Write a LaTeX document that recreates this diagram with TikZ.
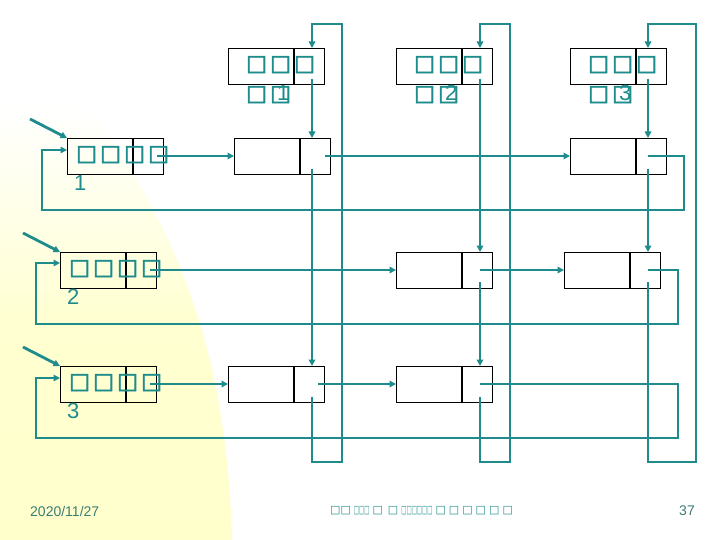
\documentclass[tikz,border=0pt]{standalone}
\usepackage{fontspec}
\setmainfont{Liberation Sans}
\newfontfamily\sqfont{DejaVu Sans}
\newfontfamily\sqfontB{DejaVu Sans}[FakeBold=2.5]
\usetikzlibrary{arrows.meta}
\definecolor{tealA}{RGB}{30,140,140}
\definecolor{footc}{RGB}{60,125,115}
\definecolor{bgy}{RGB}{255,255,204}
\newcommand{\tofu}{{\sqfontB □}}
\newcommand{\tofuL}{{\sqfont □}}
\newcommand{\tb}{\makebox[24pt][l]{\tofu}}
\newcommand{\tn}{\scalebox{0.5}[1]{\tofuL}}
\begin{document}
\begin{tikzpicture}[x=1pt,y=-1pt,
  thk/.style={draw=tealA, line width=2.8pt, -{Triangle[length=6.5pt,width=6.5pt]}},
  thn/.style={draw=tealA, line width=1.4pt},
  thnar/.style={thn, -{Triangle[length=6.5pt,width=6.5pt]}},
  cellbox/.style={draw=black, line width=1.4pt, minimum width=96pt, minimum height=36pt, inner sep=0pt, anchor=north west},
  lbl/.style={text=tealA, font=\fontsize{22}{30}\selectfont, align=left, inner sep=0pt, anchor=north west},
  foot/.style={font=\fontsize{14}{14}\selectfont, inner sep=0pt}]
\useasboundingbox (0,0) rectangle (720,540);
\shade[top color=white, bottom color=bgy, middle color=bgy!90]
  (0,540) -- (232,540) .. controls (228,400) and (200,250) .. (85,105) -- (0,105) -- cycle;
\newcommand{\cellnode}[3]{%
  \node[cellbox] (#1) at (#2,#3) {};
  \draw[line width=1.4pt] ([xshift=66pt]#1.north west) -- ([xshift=66pt]#1.south west);}
% column heads
\cellnode{H1}{228}{48}
\cellnode{H2}{396}{48}
\cellnode{H3}{570}{48}
% row heads
\cellnode{R1}{67}{138}
\cellnode{R2}{60}{252}
\cellnode{R3}{60}{366}
% elements
\cellnode{A11}{234}{138}
\cellnode{A13}{570}{138}
\cellnode{A22}{396}{252}
\cellnode{A23}{564}{252}
\cellnode{A31}{228}{366}
\cellnode{A32}{396}{366}
% labels
\node[lbl] (tH1) at (246,56) {\tb\tb\tofu\\\tb\rlap{\tofu}\kern7pt 1};
\node[lbl] (tH2) at (414,56) {\tb\tb\tofu\\\tb\rlap{\tofu}\kern7pt 2};
\node[lbl] (tH3) at (588,56) {\tb\tb\tofu\\\tb\rlap{\tofu}\kern7pt 3};
\node[lbl] (tR1) at (76,146) {\tb\tb\tb\tofu\\\kern-2pt 1};
\node[lbl] (tR2) at (69,260) {\tb\tb\tb\tofu\\\kern-2pt 2};
\node[lbl] (tR3) at (69,374) {\tb\tb\tb\tofu\\\kern-2pt 3};
% column 1
\coordinate (H1d) at (312,79);
\coordinate (A11d) at (312,169);
\coordinate (A31d) at (312,397);
\draw[thk] (H1d) -- (H1d |- A11.north);
\draw[thk] (A11d) -- (A11d |- A31.north);
\draw[thnar] (A31d) -- (312,462) -| (342,24) -| (H1d |- H1.north);
% column 2
\coordinate (H2d) at (480,79);
\coordinate (A22d) at (480,282);
\coordinate (A32d) at (480,397);
\draw[thk] (H2d) -- (H2d |- A22.north);
\draw[thk] (A22d) -- (A22d |- A32.north);
\draw[thnar] (A32d) -- (480,462) -| (510,24) -| (H2d |- H2.north);
% column 3
\coordinate (H3d) at (648,79);
\coordinate (A13d) at (648,169);
\coordinate (A23d) at (648,282);
\draw[thk] (H3d) -- (H3d |- A13.north);
\draw[thk] (A13d) -- (A13d |- A23.north);
\draw[thnar] (A23d) -- (648,462) -| (696,24) -| (H3d |- H3.north);
% row 1
\coordinate (R1r) at (157,156);
\coordinate (A11r) at (325,156);
\coordinate (A13r) at (648,156);
\coordinate (R1in) at (30,119);
\draw[thk] (R1r) -- (R1r -| A11.west);
\draw[thk] (A11r) -- (A11r -| A13.west);
\draw[thnar] (A13r) -- (684,156) |- (42,210) |- (R1.west |- 0,150);
\draw[thk] (R1in) -- (R1.north west);
% row 2
\coordinate (R2r) at (150,270);
\coordinate (A22r) at (480,270);
\coordinate (A23r) at (648,270);
\coordinate (R2in) at (23,233);
\draw[thk] (R2r) -- (R2r -| A22.west);
\draw[thk] (A22r) -- (A22r -| A23.west);
\draw[thnar] (A23r) -- (678,270) |- (36,324) |- (R2.west |- 0,263);
\draw[thk] (R2in) -- (R2.north west);
% row 3
\coordinate (R3r) at (150,384);
\coordinate (A31r) at (318,384);
\coordinate (A32r) at (480,384);
\coordinate (R3in) at (23,347);
\draw[thk] (R3r) -- (R3r -| A31.west);
\draw[thk] (A31r) -- (A31r -| A32.west);
\draw[thnar] (A32r) -- (678,384) |- (36,438) |- (R3.west |- 0,378);
\draw[thk] (R3in) -- (R3.north west);
% footer
\node[foot, text=footc, anchor=west] (date) at (30,511) {2020/11/27};
\node[foot, text=footc, anchor=east] (page) at (695,511) {37};
\node[foot, text=tealA, anchor=west, font=\fontsize{11}{11}\selectfont] (title) at (330,511)
  {\tofuL\tofuL\hspace{3pt}\tn\tn\tn\hspace{3pt}\tofuL\hspace{5pt}\tofuL\hspace{3pt}\tn\tn\tn\tn\tn\tn\hspace{3pt}\tofuL\hspace{3pt}\tofuL\hspace{3pt}\tofuL\hspace{3pt}\tofuL\hspace{3pt}\tofuL\hspace{3pt}\tofuL};
\end{tikzpicture}
\end{document}
